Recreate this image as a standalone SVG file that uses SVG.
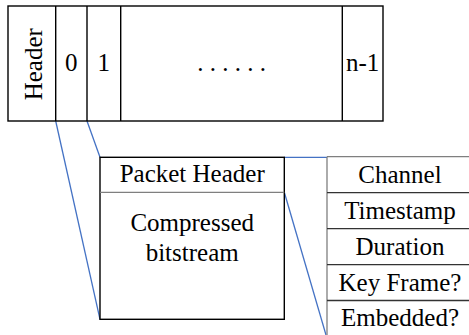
<svg xmlns="http://www.w3.org/2000/svg" width="469" height="335" viewBox="0 0 469 335">
  <style>
    text { font-family: 'Liberation Serif', 'Times New Roman', Tinos, 'DejaVu Serif', serif; font-size: 25px; fill: #000; text-anchor: middle; }
    .box { fill: #fff; stroke: #000; stroke-width: 1.4; }
    .rule { stroke: #000; stroke-width: 1.4; fill: none; }
    .soft { stroke: #7f7f7f; stroke-width: 1.3; fill: none; }
    .row { stroke: #333; stroke-width: 1.3; fill: none; }
    .link { stroke: #4472c4; stroke-width: 1.3; fill: none; }
  </style>
  <rect width="469" height="335" fill="#fff"/>

  <!-- connectors: zoom lines from packet slots to packet detail, and from header to field list -->
  <g id="connectors">
    <line class="link" x1="55.7" y1="121" x2="100" y2="319.3"/>
    <line class="link" x1="87" y1="121" x2="100" y2="157.3"/>
    <line class="link" x1="284.3" y1="157.3" x2="327" y2="157.3"/>
    <line class="link" x1="284.3" y1="192.3" x2="326" y2="335"/>
  </g>

  <!-- stream: header followed by packets 0 .. n-1 -->
  <g id="stream">
    <rect class="box" x="8" y="6" width="375" height="115"/>
    <line class="rule" x1="55.7" y1="6" x2="55.7" y2="121"/>
    <line class="rule" x1="87" y1="6" x2="87" y2="121"/>
    <line class="rule" x1="120.7" y1="6" x2="120.7" y2="121"/>
    <line class="rule" x1="342.3" y1="6" x2="342.3" y2="121"/>
  </g>
  <g id="stream-header">
    <text font-family="Liberation Serif, serif" transform="translate(41.5 64.2) rotate(-90)">Header</text>
  </g>
  <g id="packet-0">
    <text x="71.3" y="71">0</text>
  </g>
  <g id="packet-1">
    <text x="103.8" y="71">1</text>
  </g>
  <g id="packet-more">
    <text x="231.5" y="71">. . . . . .</text>
  </g>
  <g id="packet-last">
    <text x="362.6" y="71">n-1</text>
  </g>

  <!-- one packet in detail -->
  <g id="packet-detail">
    <rect class="box" x="100" y="157.3" width="184.3" height="162"/>
    <line class="soft" x1="100" y1="192.3" x2="284.3" y2="192.3"/>
    <text x="192.2" y="181.7">Packet Header</text>
    <text x="192.2" y="230.7">Compressed</text>
    <text x="192.2" y="260.7">bitstream</text>
  </g>

  <!-- packet header fields -->
  <g id="header-fields">
    <line class="soft" x1="327" y1="156.7" x2="469" y2="156.7"/>
    <line class="soft" x1="327" y1="156.7" x2="327" y2="335"/>
    <line class="row" x1="327" y1="192.7" x2="469" y2="192.7"/>
    <line class="row" x1="327" y1="228.7" x2="469" y2="228.7"/>
    <line class="row" x1="327" y1="264.7" x2="469" y2="264.7"/>
    <line class="row" x1="327" y1="300.5" x2="469" y2="300.5"/>
    <text x="400" y="182.7">Channel</text>
    <text x="400" y="218.5">Timestamp</text>
    <text x="400" y="254.5">Duration</text>
    <text x="400" y="290.5">Key Frame?</text>
    <text x="400" y="326">Embedded?</text>
  </g>
</svg>
